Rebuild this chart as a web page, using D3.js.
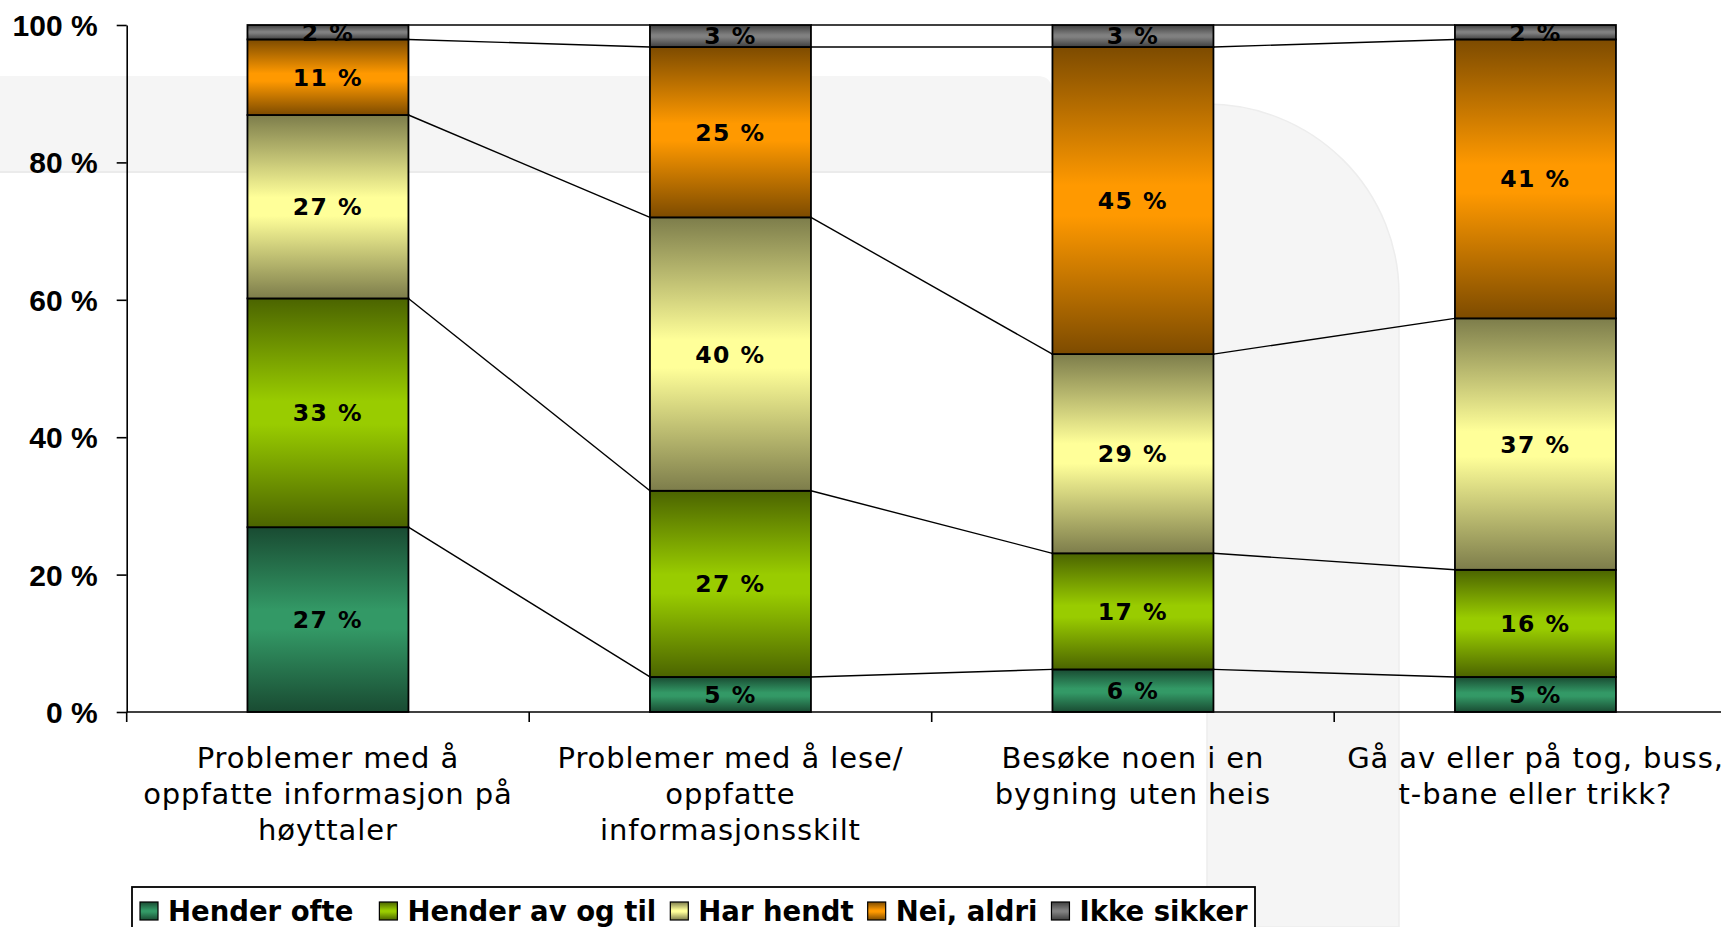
<!DOCTYPE html>
<html><head><meta charset="utf-8">
<script src="https://cdn.jsdelivr.net/npm/d3@7"></script>
<style>html,body{margin:0;padding:0;background:#fff;overflow:hidden}</style>
</head><body>
<svg id="chart" width="1721" height="927"></svg>
<script>
// ---- data ----
const categoryLines = [
  ["Problemer med å", "oppfatte informasjon på", "høyttaler"],
  ["Problemer med å lese/", "oppfatte", "informasjonsskilt"],
  ["Besøke noen i en", "bygning uten heis"],
  ["Gå av eller på tog, buss,", "t-bane eller trikk?"]
];
const categories = categoryLines.map(l => l.join(" "));
const seriesNames = ["Hender ofte", "Hender av og til", "Har hendt", "Nei, aldri", "Ikke sikker"];
const henderOfte    = [26.9,  5.1,  6.2,  5.1];
const henderAvOgTil = [33.3, 27.1, 16.9, 15.6];
const harHendt      = [26.7, 39.8, 29.0, 36.6];
const neiAldri      = [11.0, 24.8, 44.7, 40.6];
const ikkeSikker    = [ 2.1,  3.2,  3.2,  2.1];
const yTicks = [0, 20, 40, 60, 80, 100];
const seriesColors = ["#339966", "#99cc00", "#ffff99", "#ff9900", "#808080"];

// ---- setup ----
const W = 1721, H = 927;
const svg = d3.select("#chart");
const defs = svg.append("defs");
seriesColors.forEach((c, i) => {
  const dark = d3.color(c).darker(2).formatHex();
  const g = defs.append("linearGradient").attr("id", "grad" + i)
    .attr("x1", 0).attr("y1", 0).attr("x2", 0).attr("y2", 1);
  g.append("stop").attr("offset", "0%").attr("stop-color", dark);
  g.append("stop").attr("offset", "45%").attr("stop-color", c);
  g.append("stop").attr("offset", "55%").attr("stop-color", c);
  g.append("stop").attr("offset", "100%").attr("stop-color", dark);
});

// background decoration
svg.append("path").attr("d", "M0,76 H1037 Q1052,76 1052,91 V172 H0 Z").attr("fill", "#f5f5f5");
svg.append("line").attr("x1", 0).attr("x2", 1052).attr("y1", 172).attr("y2", 172)
  .attr("stroke", "#ebebeb").attr("stroke-width", 2);
svg.append("path").attr("d", "M1207,104 A192,190 0 0 1 1399,294 V927 H1207 Z")
  .attr("fill", "#f5f5f5").attr("stroke", "#ededed").attr("stroke-width", 1.5);

// scales
const x = d3.scaleBand().domain(categories).range([126.7, 126.7 + 4 * 402.5]).padding(0);
const bw = x.bandwidth();
const barW = bw * 0.4;
const barOff = (bw - barW) / 2;
const y = d3.scaleLinear().domain([0, 100]).range([712, 25]);

const keys = seriesNames;
const seriesArrays = [henderOfte, henderAvOgTil, harHendt, neiAldri, ikkeSikker];
const rows = categories.map((c, i) => {
  const r = { cat: c };
  keys.forEach((k, j) => r[k] = seriesArrays[j][i]);
  return r;
});
const stacked = d3.stack().keys(keys)(rows);

// series lines
const lineG = svg.append("g");
stacked.forEach(layer => {
  for (let i = 0; i < layer.length - 1; i++) {
    lineG.append("line")
      .attr("x1", x(categories[i]) + barOff + barW)
      .attr("y1", y(layer[i][1]))
      .attr("x2", x(categories[i + 1]) + barOff)
      .attr("y2", y(layer[i + 1][1]))
      .attr("stroke", "#000").attr("stroke-width", 1.4);
  }
});

// bars
const barG = svg.append("g");
stacked.forEach((layer, si) => {
  barG.selectAll(null).data(layer).enter().append("rect")
    .attr("x", d => x(d.data.cat) + barOff)
    .attr("y", d => y(d[1]))
    .attr("width", barW)
    .attr("height", d => y(d[0]) - y(d[1]))
    .attr("fill", `url(#grad${si})`)
    .attr("stroke", "#000").attr("stroke-width", 1.8);
});

// axes
const yAxis = svg.append("g").attr("transform", "translate(126.7,0)")
  .call(d3.axisLeft(y).tickValues(yTicks).tickSize(10).tickSizeOuter(0).tickPadding(19)
    .tickFormat(d => d + " %"));
yAxis.selectAll("path,line").attr("stroke", "#000").attr("stroke-width", 1.6);
yAxis.selectAll("text").attr("font-family", "'Liberation Sans', Arial, sans-serif")
  .attr("font-weight", "bold").attr("font-size", 30).attr("fill", "#000").attr("dy", "0.35em");

const xAxisG = svg.append("g");
xAxisG.append("line").attr("x1", 126.7).attr("x2", W).attr("y1", y(0)).attr("y2", y(0))
  .attr("stroke", "#000").attr("stroke-width", 1.6);
xAxisG.selectAll(null).data(categories).enter().append("line")
  .attr("x1", d => x(d)).attr("x2", d => x(d))
  .attr("y1", y(0)).attr("y2", y(0) + 10)
  .attr("stroke", "#000").attr("stroke-width", 1.6);

// category labels
const catLabels = svg.append("g").selectAll(null).data(categoryLines).enter().append("text")
  .attr("x", (d, i) => x(categories[i]) + bw / 2)
  .attr("y", 768)
  .attr("text-anchor", "middle")
  .attr("font-family", "'DejaVu Sans', Verdana, sans-serif")
  .attr("font-size", 29).attr("letter-spacing", "0.9px").attr("fill", "#000");
catLabels.each(function(lines, i) {
  const t = d3.select(this);
  lines.forEach((ln, j) => {
    t.append("tspan").attr("x", x(categories[i]) + bw / 2).attr("dy", j === 0 ? 0 : 36).text(ln);
  });
});

// value labels
const labG = svg.append("g");
stacked.forEach(layer => {
  labG.selectAll(null).data(layer).enter().append("text")
    .attr("x", d => x(d.data.cat) + bw / 2)
    .attr("y", d => y((d[0] + d[1]) / 2))
    .attr("dy", "0.36em")
    .attr("text-anchor", "middle")
    .attr("font-family", "'DejaVu Sans', Verdana, sans-serif")
    .attr("font-weight", "bold").attr("font-size", 23.5).attr("letter-spacing", "1.5px")
    .attr("fill", "#000")
    .text(d => Math.round(d[1] - d[0]) + " %");
});

// legend
const leg = svg.append("g");
leg.append("rect").attr("x", 132).attr("y", 887).attr("width", 1123).attr("height", 80)
  .attr("fill", "#fff").attr("stroke", "#000").attr("stroke-width", 1.8);
let lx = 140;
seriesNames.forEach((name, i) => {
  leg.append("rect").attr("x", lx).attr("y", 902).attr("width", 18).attr("height", 18)
    .attr("fill", `url(#grad${i})`).attr("stroke", "#000").attr("stroke-width", 1.2);
  const t = leg.append("text").attr("x", lx + 28).attr("y", 921)
    .attr("font-family", "'DejaVu Sans', Verdana, sans-serif")
    .attr("font-weight", "bold").attr("font-size", 27.5).attr("fill", "#000").text(name);
  lx += 28 + t.node().getComputedTextLength() + (i === 0 ? 26 : 14);
});
</script></body></html>
